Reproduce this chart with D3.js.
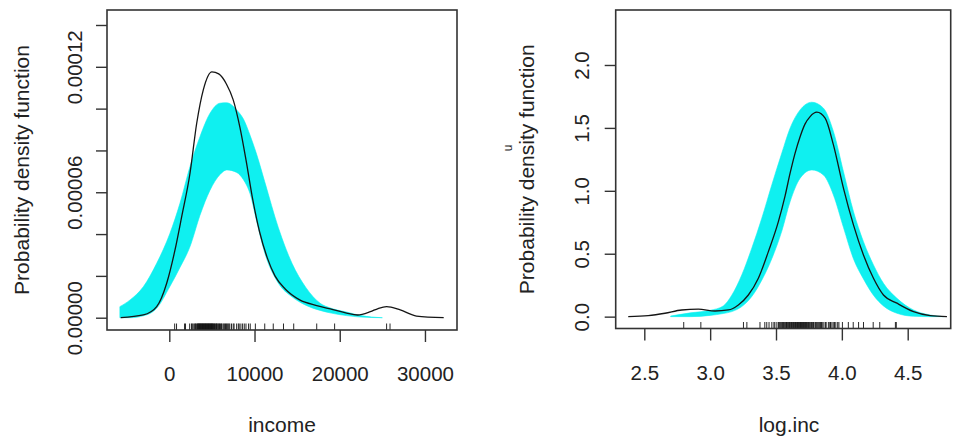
<!DOCTYPE html>
<html><head><meta charset="utf-8">
<script src="https://cdn.jsdelivr.net/npm/d3@7"></script>
<style>
body{margin:0;background:#fff;}
svg{display:block;font-family:"Liberation Sans",Arial,Helvetica,sans-serif;}
</style></head><body>
<svg id="c" width="955" height="436"></svg>
<script>
// ---------- LEFT PANEL DATA (income) ----------
const incomeX = [-5700, -3050, -1480, -305, 670, 1455, 2430, 3216, 3990, 5000, 5800, 6700, 7500, 8300, 9000, 9800, 10600, 11500, 12400, 13600, 15300, 17300, 19200, 20800, 22100, 23600, 24500, 25500, 27100, 29000, 32200];
const incomeDensity = [0, 1.3e-6, 5.3e-6, 1.65e-5, 3.24e-5, 4.83e-5, 6.91e-5, 9.3e-5, 1.09e-4, 1.176e-4, 1.166e-4, 1.118e-4, 1.042e-4, 9.08e-5, 7.55e-5, 5.63e-5, 4.10e-5, 2.86e-5, 2.0e-5, 1.37e-5, 8.5e-6, 5.8e-6, 3.9e-6, 2.2e-6, 1.3e-6, 2.9e-6, 4.4e-6, 5.3e-6, 3.7e-6, 8e-7, 0];
const incomeBandX = [-5800, -4600, -3050, -1480, 80, 1250, 2430, 3600, 4780, 5950, 6740, 7900, 8700, 9500, 10260, 11200, 12800, 14400, 16000, 17700, 19000, 20800, 22500, 25000];
const incomeBandLower = [0, 0, 9e-7, 4.5e-6, 1.5e-5, 2.4e-5, 3.4e-5, 4.9e-5, 6.1e-5, 6.85e-5, 7.07e-5, 6.95e-5, 6.6e-5, 5.9e-5, 4.6e-5, 3.1e-5, 1.65e-5, 1.0e-5, 6.0e-6, 3.5e-6, 2.2e-6, 1.0e-6, 3e-7, 0];
const incomeBandUpper = [5.3e-6, 8.5e-6, 1.48e-5, 2.6e-5, 4.04e-5, 5.47e-5, 7.23e-5, 8.66e-5, 9.78e-5, 1.026e-4, 1.028e-4, 9.94e-5, 9.5e-5, 8.7e-5, 7.8e-5, 6.5e-5, 4.3e-5, 2.6e-5, 1.46e-5, 6.9e-6, 4.5e-6, 2.7e-6, 1.0e-6, 0];
const incomeRug = [630, 850, 1790, 1900, 2390, 2600, 2690, 2800, 2940, 3050, 3100, 3210, 3300, 3350, 3400, 3450, 3500, 3550, 3600, 3650, 3700, 3750, 3800, 3850, 3900, 3950, 4000, 4050, 4100, 4150, 4200, 4250, 4300, 4350, 4400, 4450, 4500, 4550, 4600, 4650, 4700, 4750, 4800, 4850, 4900, 4950, 5000, 5050, 5100, 5150, 5200, 5300, 5350, 5400, 5500, 5550, 5600, 5700, 5750, 5850, 5900, 6000, 6100, 6150, 6300, 6400, 6500, 6600, 6700, 6800, 6900, 7000, 7100, 7300, 7500, 7600, 7900, 8100, 8200, 8400, 8600, 8800, 9000, 9300, 9500, 10100, 11200, 12200, 13400, 14600, 17300, 19400, 25500, 25900];
const incomeXTicks = [0, 10000, 20000, 30000];
const incomeXTickLabels = ["0", "10000", "20000", "30000"];
const incomeYTicks = [0, 2e-5, 4e-5, 6e-5, 8e-5, 1e-4, 1.2e-4, 1.4e-4];
const incomeYLabelValues = [0, 6e-5, 1.2e-4];
const incomeYLabels = ["0.00000", "0.00006", "0.00012"];

// ---------- RIGHT PANEL DATA (log.inc) ----------
const logX = [2.378, 2.53, 2.657, 2.784, 2.91, 3.037, 3.138, 3.214, 3.29, 3.366, 3.442, 3.518, 3.569, 3.607, 3.645, 3.683, 3.72, 3.759, 3.81, 3.873, 3.936, 4.012, 4.088, 4.164, 4.24, 4.316, 4.418, 4.544, 4.671, 4.798];
const logDensity = [0, 0.008, 0.027, 0.053, 0.059, 0.045, 0.053, 0.093, 0.172, 0.305, 0.517, 0.755, 0.96, 1.14, 1.30, 1.43, 1.53, 1.59, 1.625, 1.577, 1.365, 1.021, 0.729, 0.49, 0.305, 0.172, 0.107, 0.04, 0.008, 0];
const logBandX = [2.70, 2.85, 3.0, 3.10, 3.164, 3.24, 3.316, 3.392, 3.468, 3.544, 3.607, 3.683, 3.772, 3.860, 3.936, 4.012, 4.088, 4.164, 4.240, 4.316, 4.418, 4.544, 4.671, 4.772];
const logBandLower = [0, 0, 0.01, 0.025, 0.04, 0.08, 0.16, 0.29, 0.46, 0.68, 0.914, 1.10, 1.166, 1.126, 0.967, 0.71, 0.46, 0.30, 0.17, 0.085, 0.027, 0.003, 0, 0];
const logBandUpper = [0.005, 0.03, 0.05, 0.085, 0.17, 0.331, 0.544, 0.782, 1.047, 1.30, 1.498, 1.643, 1.704, 1.657, 1.471, 1.153, 0.835, 0.596, 0.411, 0.265, 0.146, 0.053, 0.013, 0];
const logXTicks = [2.5, 3.0, 3.5, 4.0, 4.5];
const logXTickLabels = ["2.5", "3.0", "3.5", "4.0", "4.5"];
const logYTicks = [0, 0.5, 1.0, 1.5, 2.0];
const logYLabelValues = [0, 0.5, 1.0, 1.5, 2.0];
const logYLabels = ["0.0", "0.5", "1.0", "1.5", "2.0"];

const svg = d3.select("#c");
const TXT = "#222", AX = "#333";

function drawPanel(p) {
  const x = d3.scaleLinear().domain(p.xDomain).range([p.left, p.right]);
  const y = d3.scaleLinear().domain(p.yDomain).range([p.bottom, p.top]);
  const g = svg.append("g");

  const band = p.bandX.map((v, i) => ({x: v, lo: p.bandLo[i], hi: p.bandHi[i]}));
  g.append("path").datum(band)
    .attr("fill", "#0ff0f0")
    .attr("stroke", "#0ff0f0").attr("stroke-width", 0.6)
    .attr("d", d3.area().x(d => x(d.x)).y0(d => y(d.lo)).y1(d => y(d.hi)).curve(d3.curveMonotoneX));

  const line = p.lineX.map((v, i) => ({x: v, y: p.lineY[i]}));
  g.append("path").datum(line)
    .attr("fill", "none").attr("stroke", "#151515").attr("stroke-width", 1.3)
    .attr("d", d3.line().x(d => x(d.x)).y(d => y(d.y)).curve(d3.curveMonotoneX));

  g.append("g").selectAll("line").data(p.rug).join("line")
    .attr("x1", d => x(d)).attr("x2", d => x(d))
    .attr("y1", p.bottom).attr("y2", p.bottom - 6.5)
    .attr("stroke", "#111").attr("stroke-width", 0.9);

  g.append("rect").attr("x", p.left).attr("y", p.top)
    .attr("width", p.right - p.left).attr("height", p.bottom - p.top)
    .attr("fill", "none").attr("stroke", AX).attr("stroke-width", 1.6);

  const xa = g.append("g").attr("transform", `translate(0,${p.bottom})`)
    .call(d3.axisBottom(x).tickValues(p.xTicks).tickFormat((d, i) => p.xTickLabels[i]).tickSize(12).tickSizeOuter(0));
  xa.attr("font-family", null).attr("font-size", null);
  xa.select(".domain").remove();
  xa.selectAll(".tick line").attr("stroke", AX).attr("stroke-width", 1.4);
  xa.selectAll(".tick text").attr("y", p.xLabelBase - p.bottom).attr("dy", 0)
    .style("font-size", "20.5px").attr("fill", TXT);

  const ya = g.append("g").attr("transform", `translate(${p.left},0)`)
    .call(d3.axisLeft(y).tickValues(p.yTicks).tickFormat(d => {
      const i = p.yLabelValues.indexOf(d); return i >= 0 ? p.yLabels[i] : "";
    }).tickSize(11).tickSizeOuter(0));
  ya.attr("font-family", null).attr("font-size", null);
  ya.select(".domain").remove();
  ya.selectAll(".tick line").attr("stroke", AX).attr("stroke-width", 1.4);
  ya.selectAll(".tick text").attr("transform", "rotate(-90)")
    .attr("x", 0).attr("y", p.yLabelOff).attr("dy", 0)
    .style("text-anchor", "middle").style("font-size", "20.5px").attr("fill", TXT);

  g.append("text").attr("x", p.xTitleX).attr("y", 432)
    .attr("text-anchor", "middle").style("font-size", "21px").attr("fill", TXT).text(p.xTitle);
  g.append("text").attr("transform", `translate(${p.yTitleX},${(p.top + p.bottom) / 2}) rotate(-90)`)
    .attr("text-anchor", "middle").style("font-size", "21px").attr("fill", TXT).text("Probability density function");
  return g;
}

drawPanel({
  left: 107, right: 457, top: 10, bottom: 330,
  xDomain: [-7310, 33760], yDomain: [-5.88e-6, 1.4717e-4],
  bandX: incomeBandX, bandLo: incomeBandLower, bandHi: incomeBandUpper,
  lineX: incomeX, lineY: incomeDensity, rug: incomeRug,
  xTicks: incomeXTicks, xTickLabels: incomeXTickLabels,
  yTicks: incomeYTicks, yLabelValues: incomeYLabelValues, yLabels: incomeYLabels,
  xLabelBase: 381, yLabelOff: -25.5, xTitle: "income", xTitleX: 282, yTitleX: 29
});

const gr = drawPanel({
  left: 615.7, right: 950.7, top: 10, bottom: 328.5,
  xDomain: [2.2828, 4.8265], yDomain: [-0.0942, 2.437],
  bandX: logBandX, bandLo: logBandLower, bandHi: logBandUpper,
  lineX: logX, lineY: logDensity, rug: incomeRug.map(v => Math.log10(v)),
  xTicks: logXTicks, xTickLabels: logXTickLabels,
  yTicks: logYTicks, yLabelValues: logYLabelValues, yLabels: logYLabels,
  xLabelBase: 380, yLabelOff: -27, xTitle: "log.inc", xTitleX: 789, yTitleX: 534
});
gr.append("text").attr("transform", "translate(511.5,148) rotate(-90)")
  .attr("text-anchor", "middle").style("font-size", "12px").attr("fill", TXT).text("u");
</script>
</body></html>
